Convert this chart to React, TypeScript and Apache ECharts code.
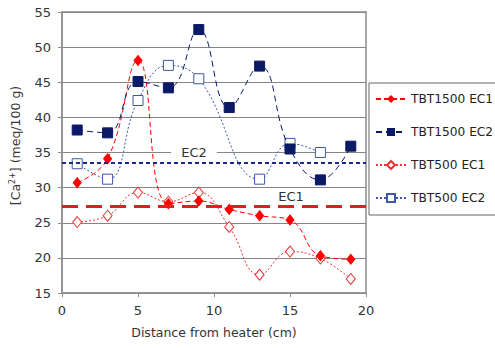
import React, { useEffect, useRef } from "react";
import * as echarts from "echarts";

const distances = [1, 3, 5, 7, 9, 11, 13, 15, 17, 19];
const tbt1500EC1 = [30.7, 34.1, 48.1, 27.7, 28.1, 26.9, 26.0, 25.4, 20.3, 19.8];
const tbt1500EC2 = [38.2, 37.8, 45.1, 44.2, 52.5, 41.4, 47.3, 35.5, 31.1, 35.9];
const tbt500EC1 = [25.1, 26.0, 29.3, 28.0, 29.3, 24.4, 17.6, 20.9, 19.9, 17.0];
const tbt500EC2: (number | null)[] = [33.4, 31.2, 42.4, 47.4, 45.5, null, 31.2, 36.3, 35.0, null];
const ec1Level = 27.3;
const ec2Level = 33.5;
const seriesNames = ["TBT1500 EC1", "TBT1500 EC2", "TBT500 EC1", "TBT500 EC2"];

const pairs = (vals: (number | null)[]) =>
  distances.map((x, i) => [x, vals[i]]).filter((p) => p[1] !== null);

const FONT = "DejaVu Sans";

export default function App() {
  const ref = useRef<HTMLDivElement>(null);
  useEffect(() => {
    if (!ref.current) return;
    const chart = echarts.init(ref.current, undefined, { renderer: "svg" });
    const red = "#ff0000";
    const navy = "#0a1a66";
    const slate = "#3d58a8";
    chart.setOption({
      animation: false,
      backgroundColor: "#ffffff",
      textStyle: { fontFamily: FONT },
      grid: {
        left: 57,
        right: 129,
        top: 12,
        bottom: 55,
        show: true,
        borderColor: "#a8a8a8",
        borderWidth: 2,
      },
      legend: {
        orient: "vertical",
        left: 369,
        top: 83,
        padding: [10, 40, 11, 6],
        itemWidth: 30,
        itemHeight: 10,
        itemGap: 21,
        borderColor: "#666",
        borderWidth: 1,
        textStyle: { fontFamily: FONT, fontSize: 12.2, color: "#222" },
        data: seriesNames,
      },
      xAxis: {
        type: "value",
        min: 0,
        max: 20,
        interval: 5,
        name: "Distance from heater (cm)",
        nameLocation: "middle",
        nameGap: 33,
        nameTextStyle: { fontFamily: FONT, fontSize: 12.5, color: "#333" },
        axisLine: { lineStyle: { color: "#909090", width: 1.5 } },
        axisTick: { show: true, length: 4, lineStyle: { color: "#909090" } },
        axisLabel: { fontFamily: FONT, fontSize: 13, color: "#333", margin: 11 },
        splitLine: { show: false },
      },
      yAxis: {
        type: "value",
        min: 15,
        max: 55,
        interval: 5,
        name: "[Ca{sup|2+}] (meq/100 g)",
        nameLocation: "middle",
        nameGap: 40,
        nameRotate: 90,
        nameTextStyle: {
          fontFamily: FONT,
          fontSize: 12.5,
          color: "#333",
          padding: [0, 0, 0, 14],
          rich: {
            sup: { fontFamily: FONT, fontSize: 8, color: "#333", verticalAlign: "top", padding: [0, 0, 6, 0] },
          },
        },
        axisLine: { show: true, lineStyle: { color: "#909090", width: 1.5 } },
        axisTick: { show: true, length: 4, lineStyle: { color: "#909090" } },
        axisLabel: { fontFamily: FONT, fontSize: 13, color: "#333", margin: 11 },
        splitLine: { show: true, lineStyle: { color: "#858585", width: 1 } },
      },
      series: [
        {
          name: seriesNames[0],
          type: "line",
          data: pairs(tbt1500EC1),
          smooth: 0.45,
          symbol: "diamond",
          symbolSize: [8, 10],
          itemStyle: { color: red, borderColor: red },
          lineStyle: { color: red, width: 1, type: [5, 3] },
          z: 4,
          markLine: {
            silent: true,
            symbol: "none",
            lineStyle: { color: "#e41e1e", width: 3, type: [16, 8] },
            label: {
              show: true,
              formatter: "EC1",
              position: "insideMiddleTop",
              distance: 3,
              offset: [77, 0],
              fontFamily: FONT,
              fontSize: 13,
              color: "#333",
              backgroundColor: "#ffffff",
              padding: [1, 10, 1, 10],
            },
            data: [{ yAxis: ec1Level }],
          },
        },
        {
          name: seriesNames[1],
          type: "line",
          data: pairs(tbt1500EC2),
          smooth: 0.45,
          symbol: "rect",
          symbolSize: 10,
          itemStyle: { color: navy, borderColor: navy },
          lineStyle: { color: navy, width: 1, type: [6, 4] },
          z: 4,
          markLine: {
            silent: true,
            symbol: "none",
            lineStyle: { color: "#1a2a88", width: 2, type: [4, 3] },
            label: {
              show: true,
              formatter: "EC2",
              position: "insideMiddleTop",
              distance: 3,
              offset: [-20, 0],
              fontFamily: FONT,
              fontSize: 13,
              color: "#333",
              backgroundColor: "#ffffff",
              padding: [1, 10, 1, 10],
            },
            data: [{ yAxis: ec2Level }],
          },
        },
        {
          name: seriesNames[2],
          type: "line",
          data: pairs(tbt500EC1),
          smooth: 0.45,
          symbol: "diamond",
          symbolSize: [9, 11],
          itemStyle: { color: "#ffffff", borderColor: "#f03030", borderWidth: 1 },
          lineStyle: { color: "#f03030", width: 1, type: [2, 2] },
          z: 3,
        },
        {
          name: seriesNames[3],
          type: "line",
          data: pairs(tbt500EC2),
          smooth: 0.45,
          symbol: "rect",
          symbolSize: 10,
          itemStyle: { color: "#ffffff", borderColor: slate, borderWidth: 1 },
          lineStyle: { color: slate, width: 1, type: [2, 2] },
          z: 3,
        },
      ],
    });
    return () => chart.dispose();
  }, []);
  return (
    <div
      ref={ref}
      style={{ position: "fixed", left: 0, top: 0, width: 495, height: 348, background: "#fff" }}
    />
  );
}
